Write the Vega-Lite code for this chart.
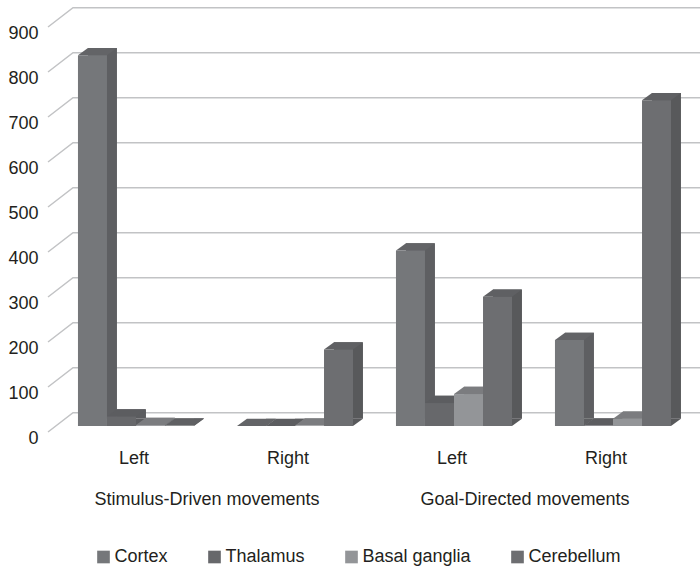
{"$schema":"https://vega.github.io/schema/vega-lite/v6.json","width":636,"height":405,"autosize":{"type":"none"},"padding":{"left":56.5,"top":21,"right":7.5,"bottom":142},"background":"white","config":{"view":{"stroke":null},"font":"Liberation Sans"},
"datasets":{"bars":[
{"panel":"Stimulus-Driven Left","structure":"Cortex","value":824},{"panel":"Stimulus-Driven Left","structure":"Thalamus","value":21},{"panel":"Stimulus-Driven Left","structure":"Basal ganglia","value":2},{"panel":"Stimulus-Driven Left","structure":"Cerebellum","value":1},
{"panel":"Stimulus-Driven Right","structure":"Cortex","value":0},{"panel":"Stimulus-Driven Right","structure":"Thalamus","value":0},{"panel":"Stimulus-Driven Right","structure":"Basal ganglia","value":1},{"panel":"Stimulus-Driven Right","structure":"Cerebellum","value":170},
{"panel":"Goal-Directed Left","structure":"Cortex","value":390},{"panel":"Goal-Directed Left","structure":"Thalamus","value":51},{"panel":"Goal-Directed Left","structure":"Basal ganglia","value":71},{"panel":"Goal-Directed Left","structure":"Cerebellum","value":287},
{"panel":"Goal-Directed Right","structure":"Cortex","value":191},{"panel":"Goal-Directed Right","structure":"Thalamus","value":1},{"panel":"Goal-Directed Right","structure":"Basal ganglia","value":16},{"panel":"Goal-Directed Right","structure":"Cerebellum","value":724}],
"ticks":[{"tick":0},{"tick":100},{"tick":200},{"tick":300},{"tick":400},{"tick":500},{"tick":600},{"tick":700},{"tick":800},{"tick":900}],
"panels":[{"panel":"Stimulus-Driven Left","side":"Left"},{"panel":"Stimulus-Driven Right","side":"Right"},{"panel":"Goal-Directed Left","side":"Left"},{"panel":"Goal-Directed Right","side":"Right"}],
"groups":[{"panel":"Stimulus-Driven Left","group":"Stimulus-Driven movements"},{"panel":"Goal-Directed Left","group":"Goal-Directed movements"}]},
"resolve":{"scale":{"color":"independent","xOffset":"independent"}},
"layer":[
{"data":{"name":"ticks"},"mark":{"type":"point","shape":"M-88,6L-63,-13.3L564,-13.3","size":4,"filled":false,"stroke":"#c2c3c5","strokeWidth":1.5,"opacity":1},
"encoding":{"x":{"datum":"Stimulus-Driven Left","type":"nominal","scale":{"domain":["Stimulus-Driven Left","Stimulus-Driven Right","Goal-Directed Left","Goal-Directed Right"],"paddingInner":0.27,"paddingOuter":0.135},"axis":null},
"y":{"field":"tick","type":"quantitative","scale":{"domain":[0,900],"nice":false},"axis":{"values":[0,100,200,300,400,500,600,700,800,900],"domain":false,"ticks":false,"grid":false,"title":null,"labelOffset":12,"labelPadding":18.5,"labelFontSize":18,"labelColor":"#231f20","labelFont":"Liberation Sans"}}}},
{"data":{"name":"bars"},"mark":{"type":"bar","yOffset":-7.3,"y2Offset":-7.3},
"encoding":{"x":{"field":"panel","type":"nominal","axis":null},"xOffset":{"field":"structure","type":"nominal","scale":{"domain":["Cortex","Thalamus","Basal ganglia","Cerebellum"],"range":[10,126],"paddingInner":0,"paddingOuter":0}},
"y":{"field":"value","type":"quantitative"},
"color":{"field":"structure","type":"nominal","legend":null,"scale":{"domain":["Cortex","Thalamus","Basal ganglia","Cerebellum"],"range":["#5e5f62","#5b5c5f","#77787b","#58595b"]}}}},
{"data":{"name":"bars"},"mark":{"type":"point","shape":"M29,0L39,-7.3L29,-7.3Z","size":4,"filled":true,"opacity":1,"strokeWidth":0},
"encoding":{"x":{"field":"panel","type":"nominal","axis":null},"xOffset":{"field":"structure","type":"nominal","scale":{"type":"point","padding":0,"domain":["Cortex","Thalamus","Basal ganglia","Cerebellum"],"range":[0,87]}},
"y":{"datum":0,"type":"quantitative"},
"color":{"field":"structure","type":"nominal","legend":null,"scale":{"domain":["Cortex","Thalamus","Basal ganglia","Cerebellum"],"range":["#5e5f62","#5b5c5f","#77787b","#58595b"]}}}},
{"data":{"name":"bars"},"mark":{"type":"point","shape":"M0,0L29,0L39,-7.3L10,-7.3Z","size":4,"filled":true,"opacity":1,"strokeWidth":0},
"encoding":{"x":{"field":"panel","type":"nominal","axis":null},"xOffset":{"field":"structure","type":"nominal","scale":{"type":"point","padding":0,"domain":["Cortex","Thalamus","Basal ganglia","Cerebellum"],"range":[0,87]}},
"y":{"field":"value","type":"quantitative"},
"color":{"field":"structure","type":"nominal","legend":null,"scale":{"domain":["Cortex","Thalamus","Basal ganglia","Cerebellum"],"range":["#636467","#5c5d60","#7b7c7f","#5f6063"]}}}},
{"data":{"name":"bars"},"mark":{"type":"bar"},
"encoding":{"x":{"field":"panel","type":"nominal","axis":null},"xOffset":{"field":"structure","type":"nominal","scale":{"domain":["Cortex","Thalamus","Basal ganglia","Cerebellum"],"paddingInner":0,"paddingOuter":0}},
"y":{"field":"value","type":"quantitative"},
"color":{"field":"structure","type":"nominal","scale":{"domain":["Cortex","Thalamus","Basal ganglia","Cerebellum"],"range":["#75777a","#67686b","#939598","#6d6e71"]},
"legend":{"orient":"none","legendX":38,"legendY":527,"direction":"horizontal","columns":4,"gridAlign":"each","columnPadding":37,"title":null,"symbolType":"square","symbolSize":160,"symbolStrokeWidth":0,"labelFontSize":18,"labelColor":"#231f20","labelFont":"Liberation Sans","labelOffset":2}}}},
{"data":{"name":"panels"},"transform":[{"filter":"datum.side === 'Left'"}],"mark":{"type":"text","yOffset":33,"xOffset":-2,"fontSize":18,"color":"#231f20","font":"Liberation Sans"},
"encoding":{"x":{"field":"panel","type":"nominal","axis":null},"y":{"datum":0,"type":"quantitative"},"text":{"field":"side"}}},
{"data":{"name":"panels"},"transform":[{"filter":"datum.side === 'Right'"}],"mark":{"type":"text","yOffset":33,"xOffset":-7,"fontSize":18,"color":"#231f20","font":"Liberation Sans"},
"encoding":{"x":{"field":"panel","type":"nominal","axis":null},"y":{"datum":0,"type":"quantitative"},"text":{"field":"side"}}},
{"data":{"name":"groups"},"mark":{"type":"text","yOffset":74,"xOffset":71,"fontSize":18,"color":"#231f20","font":"Liberation Sans"},
"encoding":{"x":{"field":"panel","type":"nominal","axis":null},"y":{"datum":0,"type":"quantitative"},"text":{"field":"group"}}}
]}
